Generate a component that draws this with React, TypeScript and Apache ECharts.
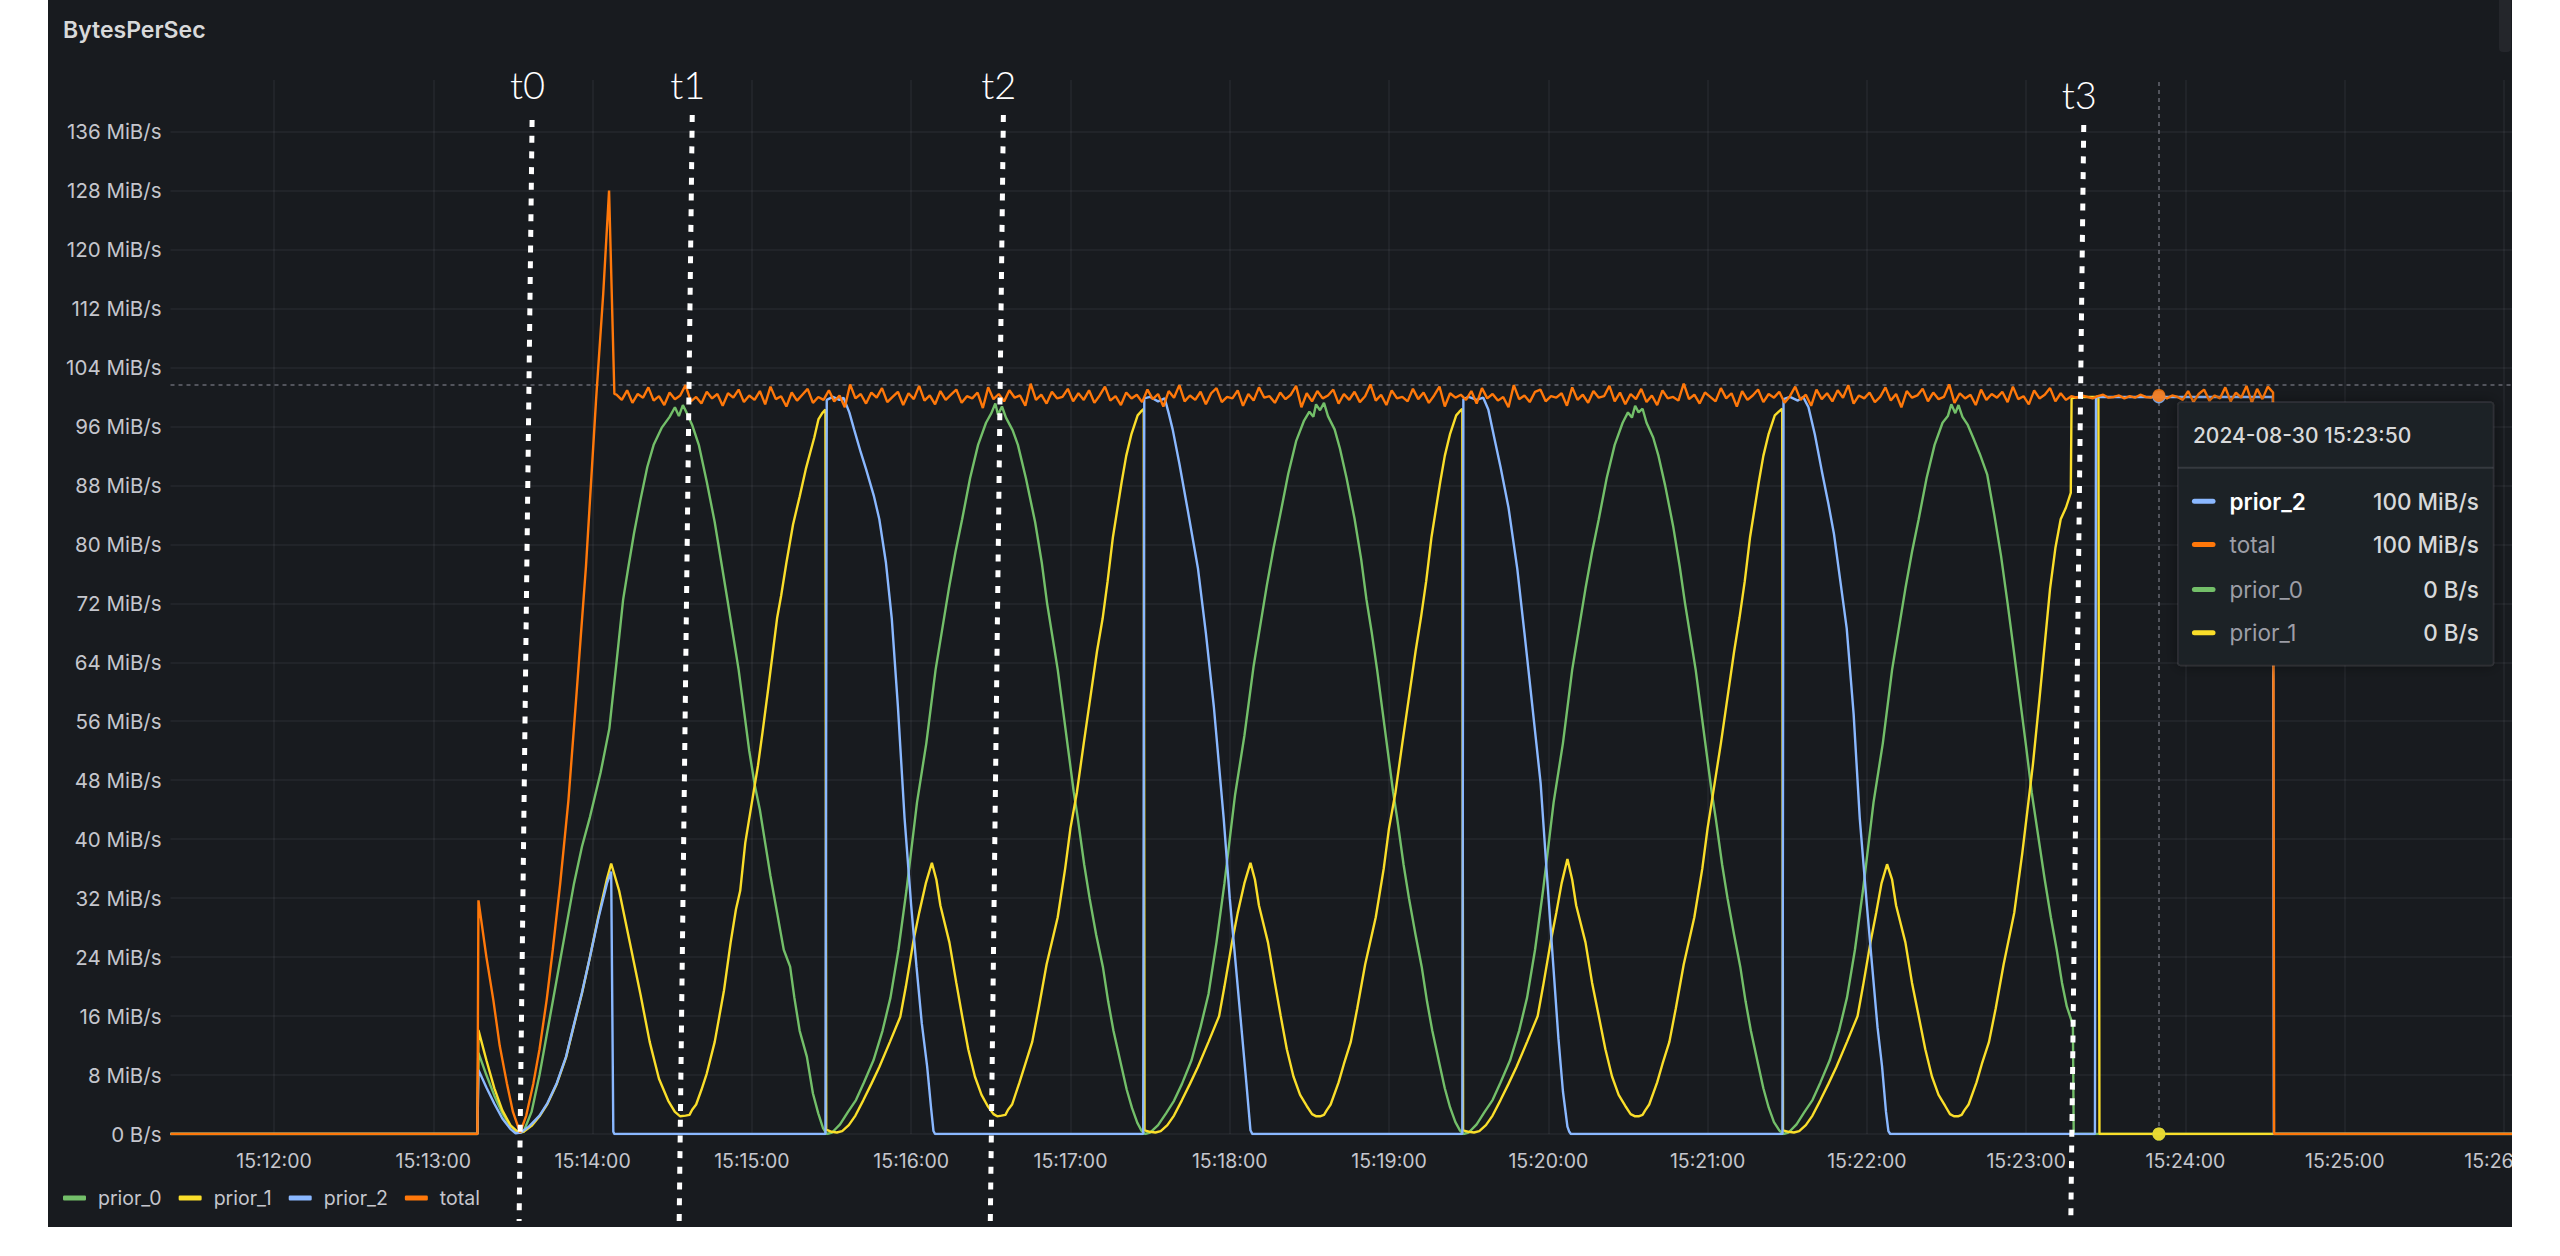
import React, { useEffect, useRef } from "react";
import * as echarts from "echarts";

// ---------- data (time = seconds after 15:00:00, values in MiB/s) ----------
const SERIES_NAMES = ["prior_0", "prior_1", "prior_2", "total"];
const SERIES_COLORS = ["#73bf69", "#fade2a", "#8ab8ff", "#ff780a"];

const X_MIN = 681;
const X_MAX = 1563;
const Y_MAX = 143;
const Y_STEP = 8;
const MINUTE_TICKS = [720, 780, 840, 900, 960, 1020, 1080, 1140, 1200, 1260, 1320, 1380, 1440, 1500, 1560];

const PRIOR_0: [number, number][] = [
  [681, 0], [796.6, 0], [797, 11], [800, 8], [803, 5.2], [806, 2.8], [809, 1.1], [812, 0.2], [814, 0.3], [817, 3], [820, 8], [823, 14], [826.5, 21], [830, 28], [833, 34], [836, 39], [839, 43], [843, 49], [846.3, 55], [849, 64], [851.5, 72.5], [853.5, 77], [855.6, 81.5], [858, 86], [860.6, 90.5], [863, 93.5], [866, 95.8], [869, 97.3], [871, 98.6], [872.5, 97.4], [874, 98.9], [875.5, 97.8], [877.5, 96.2], [880, 93.5], [883, 88.5], [886, 83], [888.5, 77.5], [891, 72], [893, 67.5], [895, 63], [897, 57.5], [899, 52], [901, 47.5], [903, 44], [905, 39.5], [907, 35], [909.5, 30], [912, 25], [914.4, 22.7], [916, 18.5], [918, 14], [920.7, 10.5], [923, 5.5], [925, 2.8], [926.8, 0.8], [928.2, 0],
  [930.2, 0.2], [933.2, 1.3], [936.2, 3], [939.2, 4.6], [942.2, 7], [945.8, 10], [949.2, 14], [952.2, 18.5], [955.2, 25], [958.2, 33], [962.2, 45], [965.7, 53], [969.2, 63], [971.7, 68.5], [974.2, 74], [976.7, 79], [979.2, 83.4], [982.2, 89], [985.2, 93.5], [988.2, 96.5], [990.2, 97.8], [991.7, 99.1], [992.7, 97.6], [994.2, 98.7], [995.7, 97.2], [998.2, 95.5], [1000.2, 93.5], [1003.2, 89], [1006.7, 83], [1009.2, 77.5], [1011.2, 72], [1013.2, 67.5], [1015.2, 63], [1017.2, 57.5], [1019.2, 52], [1021.2, 46.5], [1022.7, 43], [1025.2, 36.5], [1027.2, 32], [1029.7, 27], [1032.2, 22.7], [1034.2, 18], [1036.2, 14], [1039.2, 9.2], [1041.2, 6], [1043.2, 3.5], [1045.2, 1.5], [1046.7, 0.5], [1048, 0],
  [1050, 0.2], [1053, 1.2], [1056, 2.8], [1059, 4.5], [1062, 6.8], [1065.6, 10], [1069, 14.5], [1072, 19], [1075, 26], [1078, 34], [1082, 46], [1085.5, 54], [1089, 63.5], [1091.5, 69], [1094, 74.5], [1096.5, 79.5], [1099, 84], [1102, 89.5], [1105, 94], [1108, 96.8], [1110, 98], [1111.5, 97.3], [1112.5, 99], [1114, 98.2], [1115.5, 99.2], [1117, 97.4], [1119.5, 95.6], [1121.5, 93], [1124, 89], [1127, 83.5], [1129.5, 78], [1131.5, 72.5], [1133.5, 68], [1135.5, 63], [1137.5, 57.5], [1139.5, 52], [1141.5, 46.5], [1143, 43], [1145.5, 36.5], [1147.5, 32], [1150, 27], [1152.3, 22.7], [1154.3, 18], [1156.3, 14], [1159, 9.5], [1161, 6.2], [1163, 3.6], [1165, 1.6], [1166.7, 0.5], [1168, 0],
  [1170, 0.2], [1173, 1.3], [1176, 3], [1179, 4.6], [1182, 7], [1185.6, 10], [1189, 14], [1192, 18.5], [1195, 25], [1198, 33], [1202, 45], [1205.5, 53], [1209, 63], [1211.5, 68.5], [1214, 74], [1216.5, 79], [1219, 83.4], [1222, 89], [1225, 93.5], [1228, 96.5], [1230, 97.9], [1231.5, 97.2], [1232.7, 98.8], [1234, 97.9], [1235.5, 98.4], [1237, 96.5], [1239.5, 94.5], [1241.5, 92], [1244, 88], [1247, 82.5], [1249.5, 77], [1251.5, 72], [1253.5, 67.5], [1255.5, 63], [1257.5, 57.5], [1259.5, 52], [1261.5, 46.5], [1263, 43], [1265.5, 36.5], [1267.5, 32], [1270, 27], [1272.3, 22.7], [1274.3, 18], [1276.3, 14], [1279, 9.5], [1281, 6.2], [1283, 3.6], [1285, 1.6], [1287, 0.5], [1288.5, 0],
  [1290.5, 0.2], [1293.5, 1.3], [1296.5, 3], [1299.5, 4.6], [1302.5, 7], [1306, 10], [1309.5, 14], [1312.5, 18.5], [1315.5, 25], [1318.5, 33], [1322.5, 45], [1326, 53], [1329.5, 63], [1332, 68.5], [1334.5, 74], [1337, 79], [1339.5, 83.4], [1342.5, 89], [1345.5, 93.5], [1348.5, 96.5], [1350.5, 97.4], [1351.8, 99], [1353.3, 97.8], [1354.5, 98.9], [1356, 97.3], [1358, 96.2], [1360, 94.5], [1362.5, 92.3], [1365.3, 89.5], [1368, 84], [1370.5, 78.5], [1373, 72], [1375, 66.5], [1377.5, 59.5], [1380, 52.5], [1382.1, 46.3], [1384.5, 40.5], [1387, 34.5], [1389.3, 29.4], [1391.5, 25], [1393.5, 20.5], [1395.3, 17.3], [1397.6, 14.8], [1397.9, 0], [1563, 0],
];

const PRIOR_1: [number, number][] = [
  [681, 0], [796.6, 0], [797, 14.1], [800, 10], [803, 6.2], [806, 3.2], [809, 1.2], [812, 0.2], [814, 0.3], [817, 1.1], [820, 2.4], [823, 4.1], [826.5, 6.8], [830, 10.4], [832.8, 14.5], [836, 19.1], [839, 24], [842, 29.2], [845.4, 34.6], [847, 36.7], [850, 33], [854, 26], [858, 19], [861.5, 12.5], [865, 7.5], [868.5, 4.5], [871, 3], [873, 2.4], [875, 2.5], [876.5, 2.6], [877.5, 3.3], [879, 4], [881, 6], [883, 8.2], [886, 12.5], [889.5, 19.5], [892, 26], [894, 30.5], [895.6, 33], [897.5, 39.5], [900, 45], [902.3, 50], [904, 54.5], [906, 60], [909.5, 70], [911, 73], [913, 77.5], [915.5, 82.7], [918, 86.5], [920.3, 90.2], [922, 92.5], [923.5, 94.5], [925.1, 97], [926.5, 97.8], [927.7, 98.3],
  [928, 0.6], [930, 0.3], [932, 0.2], [934, 0.4], [936.5, 1.2], [939, 2.5], [942, 4.6], [945, 6.8], [948, 9.1], [952, 12.5], [955.9, 15.9], [958, 20], [960.9, 26.3], [963, 30], [965.5, 34], [967.8, 36.8], [969.5, 34.5], [971, 31], [974.4, 26], [977, 20.5], [979.2, 16], [981.5, 11.5], [984, 7.8], [986.5, 5.3], [988.8, 3.8], [991, 2.7], [992.4, 2.4], [994, 2.5], [995.5, 2.6], [996.5, 3.3], [998, 4], [1000.8, 7], [1003, 9.5], [1005.6, 12.5], [1008, 17], [1011, 23], [1015.2, 29.4], [1018, 36], [1020, 41.5], [1022.4, 46.3], [1025, 53], [1028, 60.5], [1030, 65.5], [1032.1, 69.9], [1034, 75], [1036, 81], [1039.3, 88.5], [1041, 92], [1043, 95], [1045.3, 97.5], [1046.5, 98], [1047.6, 98.4],
  [1047.9, 0.5], [1050, 0.3], [1052, 0.2], [1054, 0.4], [1056.5, 1.2], [1059, 2.5], [1062, 4.6], [1065, 6.8], [1068, 9.1], [1072, 12.5], [1076, 16], [1078, 20], [1081, 26.3], [1083, 30], [1085.5, 34], [1087.8, 36.8], [1089.5, 34.5], [1091, 31], [1094.4, 26], [1097, 20.5], [1099.2, 16], [1101.5, 11.5], [1104, 7.8], [1106.5, 5.3], [1109, 3.8], [1111, 2.7], [1112.6, 2.4], [1114, 2.4], [1115.5, 2.6], [1116.5, 3.2], [1118, 4], [1121, 7], [1123, 9.5], [1125.6, 12.5], [1128, 17], [1131, 23], [1135, 29.4], [1138, 36], [1140, 41.5], [1142.4, 46.3], [1145, 53], [1148, 60.5], [1150, 65.5], [1152, 70], [1154, 75], [1156, 81], [1159.3, 88.5], [1161, 92], [1163, 95], [1165.3, 97.5], [1166.5, 98], [1167.6, 98.4],
  [1167.9, 0.5], [1170, 0.3], [1172, 0.2], [1174, 0.4], [1176.5, 1.2], [1179, 2.5], [1182, 4.6], [1185, 6.8], [1188, 9.1], [1192, 12.5], [1196, 16], [1198, 20], [1201, 26.3], [1203, 30], [1205, 34], [1207.2, 37.3], [1209, 34.5], [1210.5, 31], [1214, 26], [1216.5, 20.5], [1219, 16], [1221.5, 11.5], [1224, 7.8], [1226.5, 5.3], [1229, 3.8], [1231, 2.7], [1232.7, 2.4], [1234, 2.4], [1235.5, 2.6], [1236.5, 3.2], [1238, 4], [1241, 7], [1243, 9.5], [1245.6, 12.5], [1248, 17], [1251, 23], [1255, 29.4], [1258, 36], [1260, 41.5], [1262.4, 47], [1265, 53], [1268, 60.5], [1270, 65.5], [1272, 70], [1274, 75], [1276, 81], [1279.3, 88.5], [1281, 92], [1283, 95], [1285.3, 97.5], [1286.8, 98], [1288.1, 98.4],
  [1288.4, 0.5], [1290.5, 0.3], [1292.5, 0.2], [1294.5, 0.4], [1297, 1.2], [1299.5, 2.5], [1302.5, 4.6], [1305.5, 6.8], [1308.5, 9.1], [1312.5, 12.5], [1316.5, 16], [1318.5, 20], [1321.5, 26.3], [1323.5, 30], [1325.5, 34], [1327.6, 36.6], [1329.5, 34.5], [1331, 31], [1334.5, 26], [1337, 20.5], [1339.5, 16], [1342, 11.5], [1344.5, 7.8], [1347, 5.3], [1349.5, 3.8], [1351.3, 2.7], [1352.8, 2.4], [1354.3, 2.4], [1355.7, 2.6], [1356.7, 3.2], [1358.3, 4], [1361.3, 7], [1363.3, 9.5], [1366, 12.5], [1368.5, 17], [1371.5, 23], [1375.5, 30], [1378.5, 38], [1380.5, 44], [1382.5, 50], [1385, 59], [1387, 66.5], [1389, 74], [1391, 79.5], [1393, 83.4], [1395, 85], [1396.8, 87], [1397.1, 99.8], [1400, 100], [1407.2, 100], [1407.6, 0], [1563, 0],
];

const PRIOR_2: [number, number][] = [
  [681, 0], [796.6, 0], [797, 8.7], [800, 6.3], [803, 4.1], [806, 2.1], [809, 0.7], [811, 0.1], [813, 0.2], [816, 1], [820, 2.5], [823, 4.2], [826.5, 6.9], [830, 10.5], [832.8, 14.6], [836, 19.2], [839, 24], [842, 29], [845.4, 34], [847, 35.6], [847.8, 0.3], [848.2, 0],
  [927.7, 0], [928.2, 99.6], [930.5, 100], [933, 99.6], [934.5, 99.9], [936.7, 97.9], [938.5, 95.6], [941, 92.5], [943, 90.2], [946, 86.5], [948, 83.4], [950.5, 77.5], [952.7, 69.9], [955, 58], [957.5, 42.9], [960, 31], [962, 22.7], [964, 15], [966, 9.2], [967.5, 3.5], [968.4, 0.4], [969, 0],
  [1047.4, 0], [1047.8, 99.8], [1050, 100], [1053, 99.4], [1055.5, 99.8], [1057, 97.8], [1058.5, 95.6], [1061, 91], [1064, 85], [1068, 76.8], [1071, 68], [1074, 58], [1077.7, 42.9], [1080, 32], [1082, 24], [1084, 16], [1086, 8], [1087.8, 0.5], [1088.5, 0],
  [1167.6, 0], [1168, 99.7], [1170, 100], [1173, 99.6], [1175.5, 99.9], [1177.4, 98.3], [1179.8, 94.2], [1182, 90.5], [1185, 85], [1188.3, 76.7], [1191, 68], [1194, 58], [1197.1, 47.6], [1199.5, 35], [1201.9, 22.7], [1203.8, 13], [1205.5, 5.8], [1207.2, 1], [1207.9, 0.3], [1208.5, 0],
  [1288.2, 0], [1288.6, 99.7], [1291, 100], [1294, 99.5], [1296, 100], [1298, 98.6], [1300.4, 94.9], [1303, 90], [1305.5, 85.5], [1307.6, 81.4], [1310, 75], [1312.4, 68.6], [1315, 57], [1317.3, 42.9], [1320, 31], [1322, 22.7], [1324, 14.5], [1325.7, 9.2], [1327.2, 3], [1328.1, 0.4], [1328.8, 0],
  [1405.9, 0], [1406.3, 100], [1472.9, 100], [1473.3, 0], [1563, 0],
];

// total: start-up ramp, then a 2-second sampled noisy plateau, then the stop
const TOTAL_RAMP: [number, number][] = [
  [681, 0], [796.6, 0], [797, 31.7], [800, 24], [802.6, 18.2], [805, 12], [807.7, 6.9], [810, 3], [812.7, 0.2], [815, 2.5], [817.7, 6.9], [820, 11.5], [822.7, 18.2], [825, 25], [827.8, 34], [830.9, 45.3], [834, 60], [837.5, 77], [841.3, 99.6], [844, 114], [846.2, 128], [848.2, 100.4],
];
const TOTAL_PLATEAU_START = 849;
const TOTAL_PLATEAU_STEP = 2;
const TOTAL_PLATEAU: number[] = [
  100.3, 99.6, 100.9, 99.2, 100.4, 99.9, 101.3, 99.5, 100.1, 98.9, 100.6, 99.7, 100.2, 101.6, 99.4, 100.0, 99.1, 100.7, 99.8, 100.4,
  98.8, 100.5, 99.9, 101.0, 99.3, 100.2, 99.6, 100.8, 99.0, 101.4, 99.7, 100.1, 98.7, 100.6, 99.5, 100.3, 101.1, 99.2, 100.0, 99.6,
  100.9, 99.4, 100.2, 98.6, 101.7, 99.8, 100.4, 99.1, 100.6, 99.9, 101.2, 99.3, 100.0, 100.7, 98.9, 100.5, 99.7, 101.5, 99.5, 100.2,
  99.0, 100.8, 99.6, 100.3, 101.0, 99.2, 100.1, 99.8, 100.6, 98.5, 101.3, 99.7, 100.4, 99.4, 100.9, 99.9, 100.2, 98.8, 101.8, 99.6,
  100.3, 99.1, 100.7, 99.8, 100.0, 101.1, 99.4, 100.5, 99.6, 100.9, 99.2, 100.2, 101.4, 99.5, 100.1, 98.9, 100.6, 99.8, 100.3, 99.3,
  101.0, 99.7, 100.4, 98.7, 100.8, 99.9, 101.6, 99.4, 100.2, 99.6, 100.7, 99.0, 100.5, 101.2, 99.3, 100.0, 99.8, 100.9, 98.8, 100.4,
  99.5, 101.3, 99.9, 100.1, 99.2, 100.6, 99.7, 100.3, 101.5, 98.6, 100.5, 99.4, 100.8, 99.8, 100.2, 101.0, 99.1, 100.4, 99.6, 100.7,
  99.3, 100.1, 101.7, 99.5, 100.3, 98.9, 100.9, 99.8, 100.0, 99.4, 101.1, 99.7, 100.6, 99.2, 100.2, 101.4, 98.7, 100.5, 99.9, 100.3,
  99.6, 100.8, 99.1, 101.2, 99.8, 100.4, 99.5, 100.0, 98.6, 101.6, 99.7, 100.2, 99.3, 100.7, 101.0, 99.4, 100.1, 99.9, 100.5, 98.8,
  101.3, 99.6, 100.3, 99.2, 100.8, 99.9, 100.1, 101.5, 99.4, 100.6, 99.0, 100.4, 99.7, 101.1, 99.3, 100.2, 98.9, 100.9, 99.8, 100.0,
  99.5, 101.8, 99.7, 100.3, 99.1, 100.6, 100.0, 99.4, 101.2, 99.8, 100.5, 98.7, 100.8, 99.6, 100.2, 101.0, 99.3, 100.4, 99.9, 100.7,
  99.2, 100.1, 101.4, 99.6, 100.3, 98.8, 101.0, 99.7, 100.5, 99.4, 100.9, 99.9, 101.6, 99.1, 100.2, 99.8, 100.6, 99.3, 100.0, 101.3,
  99.5, 100.4, 98.6, 100.8, 99.9, 100.2, 101.1, 99.4, 100.6, 99.7, 100.0, 101.7, 99.2, 100.5, 99.8, 100.3, 98.9, 101.0, 99.6, 100.4,
  99.9, 100.7, 99.3, 101.4, 99.7, 100.1, 99.0, 100.9, 99.8, 100.3, 101.2, 99.4, 100.5, 99.6,
  100.1, 99.9, 100.2, 100.0, 99.8, 100.1, 100.3, 99.9, 100.0, 100.2, 99.8, 100.1, 99.9, 100.3, 100.0, 99.9, 100.3, 100.1, 99.8, 100.2, 100.0,
  99.6, 100.8, 99.3, 100.4, 101.0, 99.5, 100.2, 99.8, 101.3, 99.4, 100.6, 99.9, 101.5, 99.2, 101.1, 99.7, 101.4,
];
const TOTAL_TAIL: [number, number][] = [[1473, 100.6], [1473.4, 0], [1563, 0]];

// hover state shown in the screenshot
const HOVER_TIME = 1430; // 15:23:50
const CURSOR_VALUE = 101.6;
const TOOLTIP_DATE = "2024-08-30";
const TOOLTIP_ORDER = ["prior_2", "total", "prior_0", "prior_1"];
const TOOLTIP_HIGHLIGHT = "prior_2";

// hand-drawn annotations
const ANNOTATION_LABELS = ["t0", "t1", "t2", "t3"];
const ANNOTATION_TIMES = [812.7, 873, 990.2, 1397.2];

// ---------- layout / style ----------
const FONT = "Inter";
const TEXT_COLOR = "#c5c6cd";
const GRID_COLOR = "rgba(204,204,220,0.075)";
const PANEL_BG = "#181b1f";
const ANN_TOP_Y = [120, 115, 115, 125];
const ANN_BOTTOM_Y = [1221, 1226, 1227, 1218];
const ANN_LABEL_Y = [84, 84, 84, 94];
const ANN_SLANT = 0.0118;

function pad2(n: number) {
  return (n < 10 ? "0" : "") + n;
}
function clock(t: number) {
  const m = Math.floor(t / 60);
  const s = Math.round(t - m * 60);
  return `15:${pad2(m)}:${pad2(s)}`;
}
function rate(v: number) {
  return v < 0.5 ? "0 B/s" : `${Math.round(v)} MiB/s`;
}
function valueAt(data: [number, number][], t: number) {
  for (let i = 0; i < data.length - 1; i++) {
    const a = data[i];
    const b = data[i + 1];
    if (t >= a[0] && t <= b[0]) {
      const f = b[0] === a[0] ? 0 : (t - a[0]) / (b[0] - a[0]);
      return a[1] + (b[1] - a[1]) * f;
    }
  }
  return data[data.length - 1][1];
}

export default function App() {
  const ref = useRef<HTMLDivElement | null>(null);

  useEffect(() => {
    const el = ref.current;
    if (!el) return;
    const chart = echarts.init(el, undefined, { renderer: "svg" });

    const total: [number, number][] = [
      ...TOTAL_RAMP,
      ...TOTAL_PLATEAU.map((v, i) => [TOTAL_PLATEAU_START + i * TOTAL_PLATEAU_STEP, v] as [number, number]),
      ...TOTAL_TAIL,
    ];
    const seriesData = [PRIOR_0, PRIOR_1, PRIOR_2, total];

    const lineSeries = SERIES_NAMES.map((name, i) => ({
      name,
      type: "line",
      data: seriesData[i],
      showSymbol: false,
      symbol: "none",
      lineStyle: { width: 2.4, color: SERIES_COLORS[i] },
      itemStyle: { color: SERIES_COLORS[i] },
      emphasis: { disabled: true },
      silent: true,
    }));

    const option: any = {
      animation: false,
      backgroundColor: PANEL_BG,
      textStyle: { fontFamily: FONT },
      title: {
        text: "BytesPerSec",
        left: 10,
        top: 13,
        textStyle: { color: "#d8d9da", fontSize: 23, fontWeight: 600, fontFamily: FONT },
      },
      legend: {
        data: SERIES_NAMES,
        left: 10,
        top: 1183,
        icon: "roundRect",
        itemWidth: 23,
        itemHeight: 5,
        itemGap: 17,
        selectedMode: false,
        textStyle: { color: TEXT_COLOR, fontSize: 19.5, fontFamily: FONT, padding: [0, 0, 0, 7] },
      },
      grid: { left: 122.5, right: 0, top: 80, bottom: 93, containLabel: false, outerBoundsMode: "none" },
      xAxis: {
        type: "value",
        min: X_MIN,
        max: X_MAX,
        interval: 3,
        axisLine: { show: false },
        axisTick: { show: false },
        splitLine: { show: false },
        axisLabel: {
          color: TEXT_COLOR,
          fontSize: 19.5,
          fontFamily: FONT,
          margin: 17,
          hideOverlap: false,
          formatter: (v: number) => (Math.abs(v % 60) < 1e-6 ? clock(v) : ""),
        },
      },
      yAxis: {
        type: "value",
        min: 0,
        max: Y_MAX,
        interval: Y_STEP,
        axisLine: { show: false },
        axisTick: { show: false },
        axisLabel: {
          color: TEXT_COLOR,
          fontSize: 20.5,
          fontFamily: FONT,
          margin: 9,
          showMaxLabel: false,
          formatter: (v: number) => (v === 0 ? "0 B/s" : `${v} MiB/s`),
        },
        splitLine: { show: true, showMaxLine: false, lineStyle: { color: GRID_COLOR, width: 1.5 } },
      },
      series: [
        {
          type: "line",
          data: [],
          silent: true,
          markLine: {
            silent: true,
            z: 1,
            animation: false,
            symbol: ["none", "none"],
            label: { show: false },
            lineStyle: { color: GRID_COLOR, width: 1.5, type: "solid" },
            emphasis: { disabled: true },
            data: MINUTE_TICKS.map((v) => ({ xAxis: v })),
          },
        },
        {
          type: "line",
          data: [],
          silent: true,
          markLine: {
            silent: true,
            z: 1,
            animation: false,
            symbol: ["none", "none"],
            label: { show: false },
            lineStyle: { color: "rgba(204,204,220,0.32)", width: 2, type: [4, 4] },
            emphasis: { disabled: true },
            data: [{ xAxis: HOVER_TIME }, { yAxis: CURSOR_VALUE }],
          },
        },
        ...lineSeries,
        {
          type: "scatter",
          silent: true,
          symbolSize: 13,
          z: 5,
          data: SERIES_NAMES.map((n, i) => ({
            value: [HOVER_TIME, valueAt(seriesData[i], HOVER_TIME)],
            itemStyle: { color: SERIES_COLORS[i], opacity: 0.85 },
          })),
        },
      ],
    };

    chart.setOption(option);

    const px = (t: number, v: number) => chart.convertToPixel({ gridIndex: 0 }, [t, v]) as number[];
    const graphics: any[] = [];

    // small scrollbar stub at the top right of the panel
    graphics.push({
      type: "rect",
      silent: true,
      z: 50,
      shape: { x: el.clientWidth - 13, y: 0, width: 12, height: 52, r: [0, 0, 4, 4] },
      style: { fill: "#24262b" },
    });

    // hand-drawn annotation lines
    ANNOTATION_TIMES.forEach((t, i) => {
      const [bx, by] = px(t, 0);
      const topY = ANN_TOP_Y[i];
      const botY = ANN_BOTTOM_Y[i];
      const x1 = bx + ANN_SLANT * (by - topY);
      const x2 = bx - ANN_SLANT * (botY - by);
      graphics.push({
        type: "line",
        silent: true,
        z: 100,
        shape: { x1, y1: topY, x2, y2: botY },
        style: { stroke: "#ffffff", lineWidth: 5, lineDash: [7, 8.7] },
      });
      graphics.push({
        type: "text",
        silent: true,
        z: 100,
        style: {
          text: ANNOTATION_LABELS[i],
          x: x1 - 4.5,
          y: ANN_LABEL_Y[i],
          fill: "#ffffff",
          fontSize: 38,
          fontFamily: "Lato",
          fontWeight: 300,
          align: "center",
          verticalAlign: "middle",
          textAlign: "center",
          textVerticalAlign: "middle",
        },
      });
    });

    // tooltip box at the hover position
    const [cx, cy] = px(HOVER_TIME, CURSOR_VALUE);
    const bx = cx + 19;
    const by = cy + 17;
    const bw = 315.6;
    const bh = 263.3;
    graphics.push({
      type: "rect",
      silent: true,
      z: 110,
      shape: { x: bx, y: by, width: bw, height: bh, r: 3 },
      style: {
        fill: "#1f2125",
        stroke: "rgba(204,204,220,0.10)",
        lineWidth: 1.5,
        shadowBlur: 14,
        shadowColor: "rgba(0,0,0,0.45)",
      },
    });
    graphics.push({
      type: "text",
      silent: true,
      z: 111,
      style: {
        text: `${TOOLTIP_DATE} ${clock(HOVER_TIME)}`,
        x: bx + 15,
        y: by + 33.5,
        fill: "#d8d9da",
        fontSize: 21,
        fontWeight: 500,
        fontFamily: FONT,
        align: "left",
        verticalAlign: "middle",
        textAlign: "left",
        textVerticalAlign: "middle",
      },
    });
    graphics.push({
      type: "line",
      silent: true,
      z: 111,
      shape: { x1: bx, y1: by + 65.6, x2: bx + bw, y2: by + 65.6 },
      style: { stroke: "rgba(204,204,220,0.14)", lineWidth: 2 },
    });
    const rowY = [99, 142.3, 187.3, 230.6];
    TOOLTIP_ORDER.forEach((name, r) => {
      const i = SERIES_NAMES.indexOf(name);
      const y = by + rowY[r];
      const hl = name === TOOLTIP_HIGHLIGHT;
      graphics.push({
        type: "rect",
        silent: true,
        z: 111,
        shape: { x: bx + 14, y: y - 2.5, width: 23.6, height: 5, r: 2.5 },
        style: { fill: SERIES_COLORS[i] },
      });
      graphics.push({
        type: "text",
        silent: true,
        z: 111,
        style: {
          text: name,
          x: bx + 51.6,
          y,
          fill: hl ? "#ffffff" : "#9d9ea6",
          fontSize: 22.5,
          fontWeight: hl ? 600 : 400,
          fontFamily: FONT,
          align: "left",
          verticalAlign: "middle",
          textAlign: "left",
          textVerticalAlign: "middle",
        },
      });
      graphics.push({
        type: "text",
        silent: true,
        z: 111,
        style: {
          text: rate(valueAt(seriesData[i], HOVER_TIME)),
          x: bx + 301,
          y,
          fill: "#d8d9da",
          fontSize: 22.5,
          fontWeight: 500,
          fontFamily: FONT,
          align: "right",
          verticalAlign: "middle",
          textAlign: "right",
          textVerticalAlign: "middle",
        },
      });
    });

    chart.setOption({ graphic: graphics });

    return () => {
      chart.dispose();
    };
  }, []);

  return (
    <div
      style={{
        position: "fixed",
        left: 0,
        top: 0,
        width: 2560,
        height: 1256,
        background: "#ffffff",
        overflow: "hidden",
      }}
    >
      <div
        ref={ref}
        style={{
          position: "absolute",
          left: 48,
          top: 0,
          width: 2464,
          height: 1227,
          background: PANEL_BG,
          overflow: "hidden",
        }}
      />
    </div>
  );
}
